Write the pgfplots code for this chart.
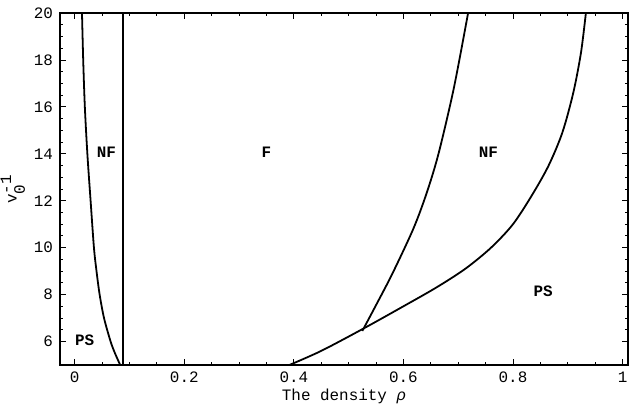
\documentclass[border=0pt]{standalone}
\usepackage{pgfplots}
\pgfplotsset{compat=1.18}
\usepackage{fontspec}
\setmainfont{Liberation Mono}
\setmonofont{Liberation Mono}
\begin{document}
\begin{tikzpicture}
\begin{axis}[
  scale only axis,
  width=284.5bp, height=176.25bp,
  xmin=-0.027, xmax=1.01,
  ymin=5, ymax=20,
  xtick={0,0.2,0.4,0.6,0.8,1},
  ytick={6,8,10,12,14,16,18,20},
  minor x tick num=3,
  minor y tick num=3,
  tick align=inside,
  major tick length=3bp,
  minor tick length=1.6bp,
  axis line style={line width=0.6pt},
  every tick/.style={line width=0.4pt, black},
  /pgf/number format/assume math mode=true,
  ticklabel style={font=\fontsize{8}{10}\selectfont},
  xticklabel style={/pgf/number format/fixed},
  label style={font=\fontsize{8}{10}\selectfont},
  xlabel={The density \textit{ρ}},
  xlabel style={at={(axis description cs:0.5,0)}, anchor=base, yshift=-18bp},
  ylabel={v$_{\texttt{0}}^{\texttt{-1}}$},
  ylabel style={at={(axis description cs:-0.083,0.5)}, anchor=center, inner sep=0pt},
  clip=true,
]
% left boundary PS/NF
\addplot[black, line width=0.9pt, smooth] coordinates {
  (0.0133,20) (0.0155,18) (0.0185,16) (0.0231,14) (0.029,12)
  (0.0351,10) (0.0398,9) (0.0455,8) (0.0535,7) (0.0655,6) (0.0735,5.5) (0.083,5)
};
% vertical boundary NF/F
\addplot[black, line width=1pt] coordinates {(0.088,5) (0.088,20)};
% F/NF boundary on the right
\addplot[black, line width=0.9pt, smooth] coordinates {
  (0.525,6.45) (0.55,7.55) (0.58,8.9) (0.618,10.8) (0.642,12.3)
  (0.664,14.0) (0.692,16.8) (0.718,20)
};
% NF/PS boundary on the right
\addplot[black, line width=0.9pt, smooth] coordinates {
  (0.392,5.0) (0.45,5.6) (0.527,6.55) (0.6,7.5) (0.66,8.3) (0.713,9.1)
  (0.76,10.0) (0.80,11.0) (0.835,12.25) (0.865,13.5) (0.89,14.9)
  (0.91,16.6) (0.924,18.3) (0.933,20)
};
\node[font=\bfseries\fontsize{8}{10}\selectfont] at (axis cs:0.058,14.06) {NF};
\node[font=\bfseries\fontsize{8}{10}\selectfont] at (axis cs:0.35,14.06) {F};
\node[font=\bfseries\fontsize{8}{10}\selectfont] at (axis cs:0.755,14.06) {NF};
\node[font=\bfseries\fontsize{8}{10}\selectfont] at (axis cs:0.855,8.12) {PS};
\node[font=\bfseries\fontsize{8}{10}\selectfont] at (axis cs:0.018,6.07) {PS};
\end{axis}
\path (current axis.south west) ++(-30bp,-22.75bp) coordinate (bbsw);
\path (current axis.north east) ++(2.5bp,6.5bp) coordinate (bbne);
\useasboundingbox (bbsw) rectangle (bbne);
\end{tikzpicture}
\end{document}
